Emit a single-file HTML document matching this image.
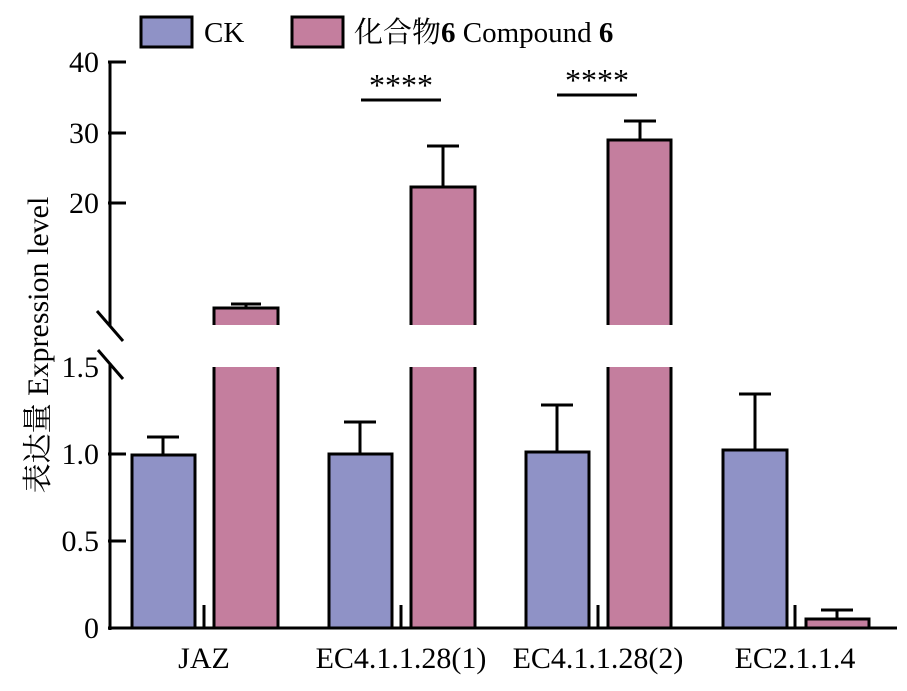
<!DOCTYPE html>
<html><head><meta charset="utf-8"><style>
html,body{margin:0;padding:0;background:#fff;}
svg{display:block;}
text{font-family:"Liberation Serif","Noto Serif CJK SC","Noto Sans CJK SC",serif;fill:#000;}
</style></head><body>
<svg width="907" height="691" viewBox="0 0 907 691" xmlns="http://www.w3.org/2000/svg">
<!-- legend -->
<rect x="141" y="17" width="51" height="30" fill="#8f92c6" stroke="#000" stroke-width="3"/>
<text x="204" y="42" font-size="29">CK</text>
<rect x="292" y="17" width="51" height="30" fill="#c47e9e" stroke="#000" stroke-width="3"/>
<text x="354" y="42" font-size="29">化合物<tspan font-weight="bold">6</tspan> Compound <tspan font-weight="bold">6</tspan></text>

<!-- axis -->
<g stroke="#000" stroke-width="3" fill="none">
<line x1="110" y1="61" x2="110" y2="326"/>
<line x1="110" y1="363" x2="110" y2="630"/>
<line x1="108" y1="628" x2="897" y2="628"/>
<line x1="97" y1="311" x2="123" y2="341"/>
<line x1="98" y1="350" x2="123" y2="379"/>
<line x1="108" y1="62" x2="126" y2="62"/>
<line x1="108" y1="133" x2="126" y2="133"/>
<line x1="108" y1="203" x2="126" y2="203"/>
<line x1="108" y1="454" x2="126" y2="454"/>
<line x1="108" y1="541" x2="126" y2="541"/>
<line x1="204" y1="605" x2="204" y2="628"/>
<line x1="401" y1="605" x2="401" y2="628"/>
<line x1="598" y1="605" x2="598" y2="628"/>
<line x1="795" y1="605" x2="795" y2="628"/>
</g>
<g font-size="30" text-anchor="end">
<text x="99" y="72">40</text>
<text x="99" y="143">30</text>
<text x="99" y="213">20</text>
<text x="99" y="377">1.5</text>
<text x="99" y="464">1.0</text>
<text x="99" y="551">0.5</text>
<text x="99" y="638">0</text>
</g>
<text transform="translate(48,345) rotate(-90)" font-size="30" text-anchor="middle">表达量 Expression level</text>

<!-- x labels -->
<g font-size="30" text-anchor="middle">
<text x="204" y="668">JAZ</text>
<text x="401" y="668">EC4.1.1.28(1)</text>
<text x="598" y="668">EC4.1.1.28(2)</text>
<text x="795" y="668">EC2.1.1.4</text>
</g>

<!-- error bars -->
<g stroke="#000" stroke-width="3">
<line x1="163" y1="455" x2="163" y2="437"/><line x1="147" y1="437" x2="179" y2="437"/>
<line x1="246" y1="308" x2="246" y2="304"/><line x1="231" y1="304" x2="261" y2="304"/>
<line x1="360" y1="454" x2="360" y2="422"/><line x1="344" y1="422" x2="376" y2="422"/>
<line x1="443" y1="187" x2="443" y2="146"/><line x1="427" y1="146" x2="459" y2="146"/>
<line x1="557" y1="452" x2="557" y2="405"/><line x1="541" y1="405" x2="573" y2="405"/>
<line x1="640" y1="140" x2="640" y2="121"/><line x1="624" y1="121" x2="656" y2="121"/>
<line x1="755" y1="450" x2="755" y2="394"/><line x1="739" y1="394" x2="771" y2="394"/>
<line x1="837" y1="619" x2="837" y2="610"/><line x1="821" y1="610" x2="853" y2="610"/>
</g>

<!-- bars CK -->
<g fill="#8f92c6" stroke="#000" stroke-width="3">
<rect x="132" y="455" width="63" height="173"/>
<rect x="329" y="454" width="63" height="174"/>
<rect x="526" y="452" width="63" height="176"/>
<rect x="723" y="450" width="64" height="178"/>
<rect x="806" y="619" width="63" height="9" fill="#c47e9e"/>
</g>
<!-- broken compound bars -->
<g>
<path d="M214,325 V308 H278 V325 Z" fill="#c47e9e"/>
<path d="M214,325 V308 H278 V325" fill="none" stroke="#000" stroke-width="3"/>
<path d="M214,367 V628 H278 V367 Z" fill="#c47e9e"/>
<path d="M214,367 V628 M278,628 V367" fill="none" stroke="#000" stroke-width="3"/>

<path d="M411,325 V187 H475 V325 Z" fill="#c47e9e"/>
<path d="M411,325 V187 H475 V325" fill="none" stroke="#000" stroke-width="3"/>
<path d="M411,367 V628 H475 V367 Z" fill="#c47e9e"/>
<path d="M411,367 V628 M475,628 V367" fill="none" stroke="#000" stroke-width="3"/>

<path d="M608,325 V140 H671 V325 Z" fill="#c47e9e"/>
<path d="M608,325 V140 H671 V325" fill="none" stroke="#000" stroke-width="3"/>
<path d="M608,367 V628 H671 V367 Z" fill="#c47e9e"/>
<path d="M608,367 V628 M671,628 V367" fill="none" stroke="#000" stroke-width="3"/>
</g>
<line x1="108" y1="628" x2="897" y2="628" stroke="#000" stroke-width="3"/>

<!-- significance -->
<g stroke="#000" stroke-width="3">
<line x1="361" y1="100" x2="441" y2="100"/>
<line x1="557" y1="95" x2="637" y2="95"/>
</g>
<text x="401" y="96" font-size="32" text-anchor="middle">****</text>
<text x="597" y="91" font-size="32" text-anchor="middle">****</text>
</svg>
</body></html>
